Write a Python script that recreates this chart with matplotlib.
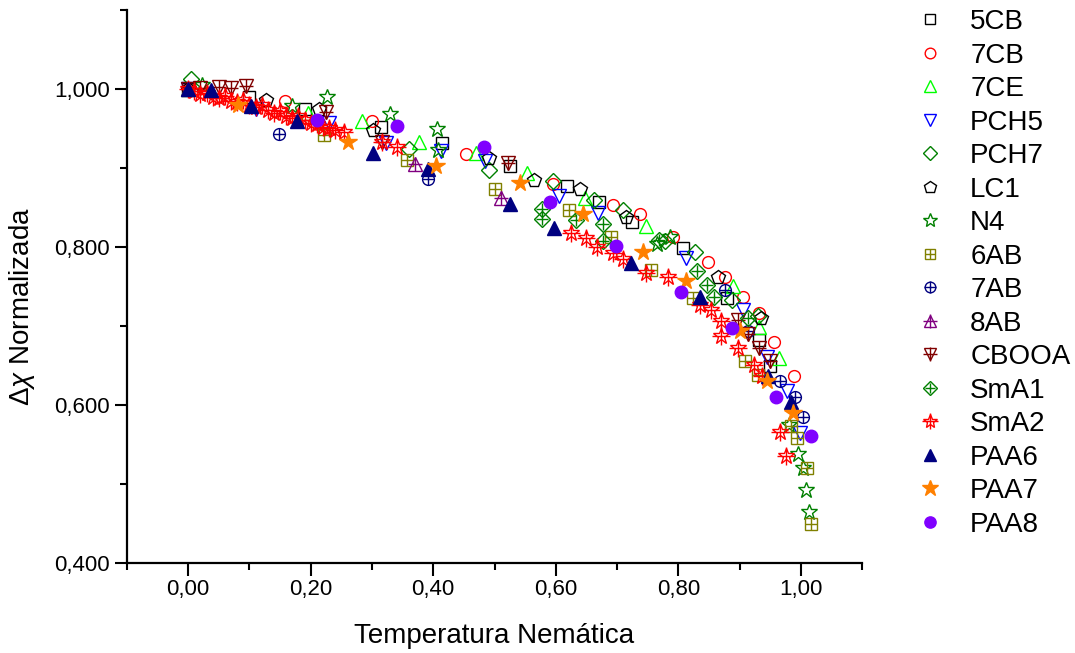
import matplotlib
matplotlib.use("Agg")
import matplotlib.pyplot as plt
from matplotlib.ticker import FuncFormatter, FixedLocator

plt.rcParams['font.family'] = ['Liberation Sans', 'DejaVu Sans']
plt.rcParams['mathtext.fontset'] = 'custom'
plt.rcParams['mathtext.it'] = 'Liberation Sans:italic'
plt.rcParams['mathtext.rm'] = 'Liberation Sans'

# ---- data (normalized temperature, normalized anisotropy) ----
t_5CB = [0.000, 0.100, 0.190, 0.315, 0.414, 0.525, 0.619, 0.670, 0.724, 0.808, 0.879, 0.932, 0.949]
v_5CB = [1.000, 0.990, 0.975, 0.952, 0.931, 0.902, 0.877, 0.857, 0.832, 0.798, 0.735, 0.682, 0.649]

t_7CB = [0.000, 0.158, 0.300, 0.454, 0.595, 0.694, 0.737, 0.791, 0.849, 0.876, 0.906, 0.931, 0.956, 0.989]
v_7CB = [1.000, 0.984, 0.959, 0.917, 0.879, 0.853, 0.841, 0.813, 0.781, 0.762, 0.737, 0.716, 0.680, 0.637]

t_7CE = [0.000, 0.195, 0.283, 0.376, 0.470, 0.553, 0.647, 0.748, 0.889, 0.932, 0.964]
v_7CE = [1.000, 0.969, 0.959, 0.933, 0.919, 0.893, 0.862, 0.827, 0.750, 0.699, 0.659]

t_PCH5 = [0.000, 0.110, 0.230, 0.323, 0.412, 0.484, 0.605, 0.669, 0.812, 0.906, 0.944, 0.978, 0.998]
v_PCH5 = [1.000, 0.975, 0.957, 0.932, 0.921, 0.908, 0.864, 0.843, 0.786, 0.720, 0.661, 0.617, 0.565]

t_PCH7 = [0.004, 0.361, 0.491, 0.595, 0.662, 0.709, 0.779, 0.828, 0.887, 0.930]
v_PCH7 = [1.013, 0.924, 0.897, 0.883, 0.859, 0.847, 0.808, 0.794, 0.733, 0.712]

t_LC1 = [0.000, 0.127, 0.214, 0.302, 0.491, 0.565, 0.640, 0.715, 0.865, 0.935]
v_LC1 = [1.000, 0.986, 0.974, 0.948, 0.912, 0.885, 0.873, 0.838, 0.762, 0.710]

t_N4 = [0.023, 0.170, 0.226, 0.330, 0.406, 0.408, 0.765, 0.786, 0.981, 0.996, 1.003, 1.009, 1.014]
v_N4 = [1.005, 0.978, 0.990, 0.968, 0.949, 0.922, 0.803, 0.813, 0.575, 0.538, 0.520, 0.492, 0.464]

t_6AB = [0.222, 0.357, 0.500, 0.621, 0.690, 0.756, 0.824, 0.908, 0.930, 0.984, 0.994, 1.010, 1.016]
v_6AB = [0.942, 0.910, 0.873, 0.847, 0.813, 0.771, 0.735, 0.655, 0.638, 0.573, 0.558, 0.520, 0.449]

t_7AB = [0.148, 0.392, 0.876, 0.914, 0.966, 0.990, 1.004]
v_7AB = [0.943, 0.886, 0.746, 0.693, 0.630, 0.610, 0.585]

t_8AB = [0.000, 0.370, 0.510]
v_8AB = [1.000, 0.905, 0.862]

t_CBOOA = [0.000, 0.020, 0.050, 0.070, 0.095, 0.225, 0.317, 0.522, 0.898, 0.914, 0.931, 0.949]
v_CBOOA = [1.000, 1.001, 1.002, 1.001, 1.003, 0.971, 0.933, 0.906, 0.708, 0.690, 0.672, 0.655]

t_SmA1 = [0.577, 0.577, 0.633, 0.677, 0.677, 0.768, 0.831, 0.846, 0.859, 0.914]
v_SmA1 = [0.848, 0.835, 0.834, 0.829, 0.807, 0.809, 0.769, 0.752, 0.737, 0.710]

t_SmA2 = [0.000, 0.010, 0.020, 0.030, 0.040, 0.050, 0.060, 0.070, 0.080, 0.090,
          0.100, 0.110, 0.120, 0.130, 0.140, 0.150, 0.160, 0.170, 0.180, 0.190,
          0.200, 0.210, 0.220, 0.230, 0.240, 0.255, 0.317, 0.341, 0.625, 0.649,
          0.668, 0.693, 0.710, 0.748, 0.783, 0.835, 0.854, 0.870, 0.870, 0.898,
          0.923, 0.936, 0.966, 0.975]
v_SmA2 = [1.000, 0.997, 0.993, 0.995, 0.990, 0.988, 0.991, 0.985, 0.983, 0.986,
          0.980, 0.977, 0.979, 0.973, 0.970, 0.972, 0.966, 0.963, 0.965, 0.960,
          0.957, 0.955, 0.952, 0.950, 0.948, 0.945, 0.933, 0.926, 0.817, 0.811,
          0.800, 0.792, 0.785, 0.767, 0.762, 0.727, 0.720, 0.706, 0.687, 0.672,
          0.651, 0.636, 0.566, 0.535]

t_PAA6 = [0.000, 0.037, 0.103, 0.178, 0.302, 0.392, 0.526, 0.597, 0.723, 0.835, 0.947, 0.984]
v_PAA6 = [1.000, 0.999, 0.978, 0.959, 0.919, 0.899, 0.854, 0.824, 0.780, 0.737, 0.636, 0.603]

t_PAA7 = [0.082, 0.261, 0.405, 0.542, 0.644, 0.743, 0.813, 0.900, 0.944, 0.987]
v_PAA7 = [0.980, 0.933, 0.902, 0.881, 0.841, 0.794, 0.757, 0.693, 0.630, 0.590]

t_PAA8 = [0.211, 0.341, 0.483, 0.591, 0.699, 0.804, 0.887, 0.960, 1.016]
v_PAA8 = [0.961, 0.953, 0.926, 0.857, 0.801, 0.743, 0.697, 0.610, 0.561]

names = ["5CB", "7CB", "7CE", "PCH5", "PCH7", "LC1", "N4", "6AB", "7AB", "8AB",
         "CBOOA", "SmA1", "SmA2", "PAA6", "PAA7", "PAA8"]
xs = [t_5CB, t_7CB, t_7CE, t_PCH5, t_PCH7, t_LC1, t_N4, t_6AB, t_7AB, t_8AB,
      t_CBOOA, t_SmA1, t_SmA2, t_PAA6, t_PAA7, t_PAA8]
ys = [v_5CB, v_7CB, v_7CE, v_PCH5, v_PCH7, v_LC1, v_N4, v_6AB, v_7AB, v_8AB,
      v_CBOOA, v_SmA1, v_SmA2, v_PAA6, v_PAA7, v_PAA8]

# style: (marker, color, filled, size, overlay plus)
styles = [
    ("s", "#000000", False, 8.0, False),
    ("o", "#FF0000", False, 8.5, False),
    ("^", "#00FF00", False, 10, False),
    ("v", "#0000FF", False, 10, False),
    ("D", "#008000", False, 8.0, False),
    ("p", "#000000", False, 10, False),
    ("*", "#008000", False, 12, False),
    ("s", "#808000", False, 8.0, True),
    ("o", "#000080", False, 8.5, True),
    ("^", "#800080", False, 10, True),
    ("v", "#800000", False, 10, True),
    ("D", "#008000", False, 8.0, True),
    ("*", "#FF0000", False, 12, True),
    ("^", "#000080", True, 10, False),
    ("*", "#FF8000", True, 13, False),
    ("o", "#8000FF", True, 9, False),
]

fig = plt.figure(figsize=(10.75, 6.53), dpi=100)
ax = fig.add_axes([0.118, 0.138, 0.684, 0.847])

handles = []
for x, y, (m, c, filled, ms, plus) in zip(xs, ys, styles):
    h1, = ax.plot(x, y, linestyle="none", marker=m, markersize=ms,
                  markerfacecolor=(c if filled else "none"),
                  markeredgecolor=c, markeredgewidth=1.0)
    if plus:
        h2, = ax.plot(x, y, linestyle="none", marker="+", markersize=ms * 1.05,
                      markeredgecolor=c, markeredgewidth=1.0)
        handles.append((h1, h2))
    else:
        handles.append(h1)

ax.set_xlim(-0.1, 1.1)
ax.set_ylim(0.4, 1.1)
ax.xaxis.set_major_locator(FixedLocator([0.0, 0.2, 0.4, 0.6, 0.8, 1.0]))
ax.xaxis.set_minor_locator(FixedLocator([-0.1, 0.1, 0.3, 0.5, 0.7, 0.9, 1.1]))
ax.yaxis.set_major_locator(FixedLocator([0.4, 0.6, 0.8, 1.0]))
ax.yaxis.set_minor_locator(FixedLocator([0.5, 0.7, 0.9, 1.1]))
ax.xaxis.set_major_formatter(FuncFormatter(lambda v, p: f"{v:.2f}".replace(".", ",")))
ax.yaxis.set_major_formatter(FuncFormatter(lambda v, p: f"{v:.3f}".replace(".", ",")))

for s in ["top", "right"]:
    ax.spines[s].set_visible(False)
for s in ["left", "bottom"]:
    ax.spines[s].set_linewidth(1.6)
ax.tick_params(which="major", direction="out", length=9, width=1.5, labelsize=16)
ax.tick_params(which="minor", direction="out", length=5, width=1.5)
ax.tick_params(axis="x", which="major", pad=2.5)
ax.tick_params(axis="y", which="major", pad=3)

ax.set_xlabel("Temperatura Nemática", fontsize=20, labelpad=17)
ax.set_ylabel(r"$\mathit{Δχ}$ Normalizada", fontsize=20)
ax.yaxis.set_label_coords(-0.1225, 0.463)

fig.legend(handles, names, loc="upper left", bbox_to_anchor=(0.834, 1.003),
           frameon=False, fontsize=20, numpoints=1, labelspacing=0.27,
           handlelength=1.6, handletextpad=0.65, borderaxespad=0.0,
           markerscale=0.9)

fig.savefig("out.png", dpi=100)
